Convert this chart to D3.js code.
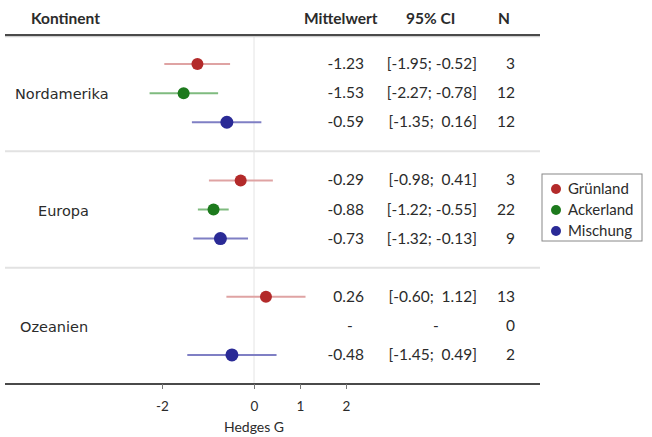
<!DOCTYPE html>
<html>
<head>
<meta charset="utf-8">
<script src="https://cdn.jsdelivr.net/npm/d3@7"></script>
<style>
  html, body { margin: 0; padding: 0; background: #fff; }
  svg { display: block; }
  text { fill: #2b2b2b; }
</style>
</head>
<body>
<svg id="chart" width="652" height="437"></svg>
<script>
// ---- data ----
const continents = ["Nordamerika", "Europa", "Ozeanien"];
const landUse = ["Grünland", "Ackerland", "Mischung"];
const means  = [[-1.23, -1.53, -0.59], [-0.29, -0.88, -0.73], [0.26, null, -0.48]];
const ciLow  = [[-1.95, -2.27, -1.35], [-0.98, -1.22, -1.32], [-0.60, null, -1.45]];
const ciHigh = [[-0.52, -0.78, 0.16], [0.41, -0.55, -0.13], [1.12, null, 0.49]];
const counts = [[3, 12, 12], [3, 22, 9], [13, 0, 2]];
const xTicks = [-2, 0, 1, 2];
const headers = ["Kontinent", "Mittelwert", "95% CI", "N"];
const xLabel = "Hedges G";

// ---- styles ----
const dotColors  = ["#b32a2a", "#1d7a1d", "#2a2a96"];
const lineColors = ["#dfa3a3", "#7fbb7f", "#7f7fc4"];
const numFont = "Lato, 'Open Sans', sans-serif";
const labelFont = "'DejaVu Sans', Verdana, sans-serif";

const svg = d3.select("#chart");
const x = d3.scaleLinear().domain([-2, 2]).range([162, 346]);
const y = d3.scaleLinear().domain([0, 12]).range([35, 384]);

const loc = d3.formatLocale({decimal: ".", thousands: ",", grouping: [3], currency: ["", ""], minus: "-"});
const f2 = loc.format(".2f");

// rows
const rows = [];
continents.forEach((c, g) => {
  landUse.forEach((l, i) => {
    rows.push({g, i, slot: g * 4 + i + 1, mean: means[g][i], lo: ciLow[g][i], hi: ciHigh[g][i], n: counts[g][i]});
  });
});

// separators
[4, 8].forEach(s => {
  svg.append("line").attr("x1", 5).attr("x2", 540).attr("y1", y(s)).attr("y2", y(s))
    .attr("stroke", "#e2e2e2").attr("stroke-width", 2);
});

// zero line
svg.append("line").attr("x1", x(0)).attr("x2", x(0)).attr("y1", y(0)).attr("y2", y(12))
  .attr("stroke", "#e4e4e4").attr("stroke-width", 1);

// header
svg.append("line").attr("x1", 5).attr("x2", 540).attr("y1", y(0) + 1.5).attr("y2", y(0) + 1.5)
  .attr("stroke", "#cfcfcf").attr("stroke-width", 1.5);
svg.append("line").attr("x1", 5).attr("x2", 540).attr("y1", y(0)).attr("y2", y(0))
  .attr("stroke", "#4a4a4a").attr("stroke-width", 2);

const hdr = svg.append("g").attr("font-family", numFont).attr("font-weight", "bold").attr("font-size", 15.5);
hdr.append("text").attr("x", 31).attr("y", 24).text(headers[0]);
hdr.append("text").attr("x", 304).attr("y", 24).text(headers[1]);
hdr.append("text").attr("x", 406).attr("y", 24).text(headers[2]);
hdr.append("text").attr("x", 498).attr("y", 24).text(headers[3]);

// group labels
const labelX = [15, 38, 20];
svg.append("g").selectAll("text").data(continents).join("text")
  .attr("x", (d, g) => labelX[g])
  .attr("y", (d, g) => y(g * 4 + 2) + 6)
  .attr("font-family", labelFont).attr("font-size", 14.5)
  .attr("fill", "#333")
  .text(d => d);

// CI lines + dots
const marks = rows.filter(r => r.mean !== null);
svg.append("g").selectAll("line").data(marks).join("line")
  .attr("x1", d => x(d.lo)).attr("x2", d => x(d.hi))
  .attr("y1", d => y(d.slot)).attr("y2", d => y(d.slot))
  .attr("stroke", d => lineColors[d.i]).attr("stroke-width", 2);
svg.append("g").selectAll("circle").data(marks).join("circle")
  .attr("cx", d => x(d.mean)).attr("cy", d => y(d.slot))
  .attr("r", d => d.i === 2 ? 6.5 : 6)
  .attr("fill", d => dotColors[d.i]);

// table columns
const tbl = svg.append("g").attr("font-family", numFont).attr("font-size", 15.5).attr("fill", "#333");
tbl.selectAll("text.m").data(rows).join("text").attr("class", "m")
  .attr("x", d => d.mean === null ? 350 : 364).attr("y", d => y(d.slot) + 5)
  .attr("text-anchor", d => d.mean === null ? "middle" : "end")
  .text(d => d.mean === null ? "-" : f2(d.mean));
tbl.selectAll("text.ci").data(rows).join("text").attr("class", "ci")
  .attr("x", d => d.mean === null ? 436 : 477).attr("y", d => y(d.slot) + 5)
  .attr("text-anchor", d => d.mean === null ? "middle" : "end")
  .style("white-space", "pre")
  .text(d => d.mean === null ? "-" : `[${f2(d.lo)};${d.hi >= 0 ? "  " : " "}${f2(d.hi)}]`);
tbl.selectAll("text.n").data(rows).join("text").attr("class", "n")
  .attr("x", 515).attr("y", d => y(d.slot) + 5)
  .attr("text-anchor", "end")
  .text(d => d.n);

// axis
svg.append("line").attr("x1", 5).attr("x2", 540).attr("y1", y(12)).attr("y2", y(12))
  .attr("stroke", "#4a4a4a").attr("stroke-width", 2);
const ax = svg.append("g").attr("transform", `translate(0,${y(12)})`)
  .call(d3.axisBottom(x).tickValues(xTicks).tickSize(5).tickPadding(12).tickFormat(d => String(d)));
ax.select(".domain").remove();
ax.selectAll(".tick line").attr("stroke", "#777");
ax.selectAll(".tick text").attr("font-family", numFont).attr("font-size", 13.5).attr("fill", "#333");
svg.append("text").attr("x", x(0)).attr("y", 432).attr("text-anchor", "middle")
  .attr("font-family", numFont).attr("font-size", 14).attr("fill", "#333").text(xLabel);

// legend
const lg = svg.append("g");
lg.append("rect").attr("x", 542).attr("y", 174).attr("width", 100).attr("height", 67)
  .attr("fill", "#fff").attr("stroke", "#888").attr("stroke-width", 1);
const lgY = d3.scalePoint().domain(landUse).range([189, 231]);
lg.selectAll("circle").data(landUse).join("circle")
  .attr("cx", 556).attr("cy", d => lgY(d)).attr("r", 5).attr("fill", (d, i) => dotColors[i]);
lg.selectAll("text").data(landUse).join("text")
  .attr("x", 568).attr("y", d => lgY(d) + 5)
  .attr("font-family", numFont).attr("font-size", 15).attr("fill", "#333")
  .text(d => d);
</script>
</body>
</html>
